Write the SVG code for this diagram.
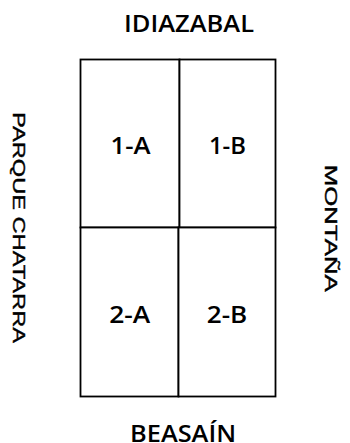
<svg xmlns="http://www.w3.org/2000/svg" width="350" height="443" viewBox="0 0 350 443">
<style>
.cell{fill:#fff;stroke:#000;stroke-width:1.8}
.lab{font-family:"Open Sans","Noto Sans",sans-serif;font-size:24px;font-weight:600;fill:#000;text-anchor:middle}
.side{font-family:"Liberation Sans",Arial,sans-serif;font-size:16.5px;fill:#000;text-anchor:middle;stroke:#000;stroke-width:0.4}
</style>
<rect width="350" height="443" fill="#fff"/>
<g id="cell-1A"><rect class="cell" x="80.5" y="59.5" width="99" height="168"/><text class="lab" x="130.5" y="154" textLength="40" lengthAdjust="spacingAndGlyphs">1-A</text></g>
<g id="cell-1B"><rect class="cell" x="179.5" y="59.5" width="96" height="168"/><text class="lab" x="227.5" y="154" textLength="37" lengthAdjust="spacingAndGlyphs">1-B</text></g>
<g id="cell-2A"><rect class="cell" x="80.5" y="227.5" width="98" height="169"/><text class="lab" x="129.7" y="322.5" textLength="41" lengthAdjust="spacingAndGlyphs">2-A</text></g>
<g id="cell-2B"><rect class="cell" x="178.5" y="227.5" width="97" height="169"/><text class="lab" x="227" y="322.5" textLength="40.5" lengthAdjust="spacingAndGlyphs">2-B</text></g>
<g id="north"><text class="lab" x="189" y="32.3" textLength="130" lengthAdjust="spacingAndGlyphs">IDIAZABAL</text></g>
<g id="south"><text class="lab" x="183" y="441.5" textLength="106" lengthAdjust="spacingAndGlyphs">BEASAÍN</text></g>
<g id="west"><text class="side" transform="translate(13.3,227.5) rotate(90)" textLength="231" lengthAdjust="spacingAndGlyphs">PARQUE CHATARRA</text></g>
<g id="east"><text class="side" transform="translate(325,228.3) rotate(90)" textLength="127" lengthAdjust="spacingAndGlyphs">MONTAÑA</text></g>
<g id="connectors"></g>
</svg>
